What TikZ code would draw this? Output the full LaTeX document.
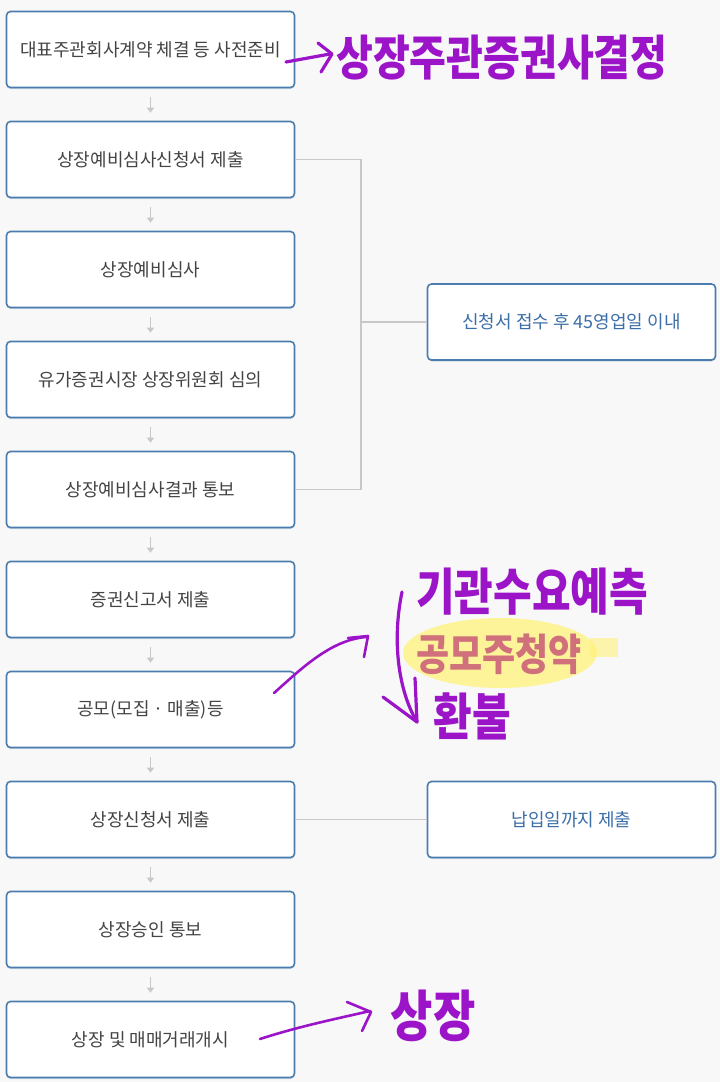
\documentclass[tikz,border=0pt]{standalone}
\usepackage{fontspec}
\newfontfamily\kr{Noto Sans CJK KR}
\usetikzlibrary{arrows.meta,shadows}
\definecolor{bgc}{HTML}{F8F8F8}
\definecolor{boxline}{HTML}{4A7DAE}
\definecolor{boxtext}{HTML}{444444}
\definecolor{bluetext}{HTML}{3C6FA8}
\definecolor{linkgray}{HTML}{C8C8C8}
\definecolor{pen}{HTML}{9B14C8}
\definecolor{hl}{HTML}{FFF27A}
\definecolor{hltext}{HTML}{D0707A}
\begin{document}
\begin{tikzpicture}[x=1pt,y=-1pt,
  stepbox/.style={draw=boxline,line width=1.6pt,rounded corners=4pt,fill=white,
    minimum width=288pt,minimum height=76pt,inner sep=0pt,
    font=\kr\fontsize{18}{21}\selectfont,text=boxtext,
    drop shadow={shadow xshift=0pt,shadow yshift=-1.5pt,opacity=0.25,fill=boxline}},
  sidebox/.style={stepbox,text=bluetext},
  flow/.style={draw=linkgray,line width=1.5pt,-{Triangle[length=5pt,width=7pt]}},
  link/.style={draw=linkgray,line width=1.5pt},
  hand/.style={text=pen,font=\kr\bfseries\fontsize{40}{40}\selectfont,inner sep=0pt,yscale=1.2},
  penline/.style={draw=pen,line width=3.2pt,line cap=round,line join=round}
]
\useasboundingbox[fill=bgc] (0,0) rectangle (720,1082);

\node[stepbox] (b1) at (150.5,49.5) {대표주관회사계약 체결 등 사전준비};
\node[stepbox] (b2) at (150.5,159.5) {상장예비심사신청서 제출};
\node[stepbox] (b3) at (150.5,269.5) {상장예비심사};
\node[stepbox] (b4) at (150.5,379.5) {유가증권시장 상장위원회 심의};
\node[stepbox] (b5) at (150.5,489.5) {상장예비심사결과 통보};
\node[stepbox] (b6) at (150.5,599.5) {증권신고서 제출};
\node[stepbox] (b7) at (150.5,709.5) {공모(모집 · 매출)등};
\node[stepbox] (b8) at (150.5,819.5) {상장신청서 제출};
\node[stepbox] (b9) at (150.5,929.5) {상장승인 통보};
\node[stepbox] (b10) at (150.5,1039.5) {상장 및 매매거래개시};

\node[sidebox] (r1) at (571.5,322) {신청서 접수 후 45영업일 이내};
\node[sidebox] (r2) at (571.5,819.5) {납입일까지 제출};

\foreach \a/\b in {b1/b2,b2/b3,b3/b4,b4/b5,b5/b6,b6/b7,b7/b8,b8/b9,b9/b10}{
  \draw[flow] ([yshift=-9pt]\a.south) -- ([yshift=8pt]\b.north);
}

\coordinate (j) at (361,322);
\draw[link] (b2.east) -| (j) |- (b5.east);
\draw[link] (j) -- (r1.west);
\draw[link] (b8.east) -- (r2.west);

% handwritten annotations
\coordinate (a1s) at (286,62);
\coordinate (a1e) at (330,54);
\draw[penline] (a1s) -- (a1e);
\draw[penline] (318,43) -- (332,54) -- (321,72);
\node[hand,anchor=west] (t1) at (336,58) {상장주관증권사결정};

\node[hand,font=\kr\bfseries\fontsize{42}{42}\selectfont] (t2) at (532,592) {기관수요예측};
\fill[hl,opacity=0.75] (500,653) ellipse (97pt and 35pt);
\fill[hl,opacity=0.6] (590,638) rectangle (618,657);
\node[hand,text=hltext,font=\kr\bfseries\fontsize{36}{36}\selectfont] (t3) at (499,654) {공모주청약};
\node[hand,font=\kr\bfseries\fontsize{42}{42}\selectfont] (t4) at (472,716) {환불};

\coordinate (a2s) at (402,592);
\coordinate (a2e) at (417,722);
\draw[penline] (a2s) .. controls (392,640) and (398,690) .. (a2e);
\draw[penline] (383,697) -- (a2e) -- (415,678);

\coordinate (a3s) at (274,693);
\coordinate (a3e) at (366,637);
\draw[penline,line width=2.6pt] (a3s) .. controls (300,670) and (330,640) .. (a3e);
\draw[penline,line width=2.6pt] (348,638) -- (368,636) -- (364,657);

\coordinate (a4s) at (260,1039);
\coordinate (a4e) at (370,1011);
\draw[penline,line width=2.6pt] (a4s) .. controls (300,1026) and (340,1018) .. (a4e);
\draw[penline,line width=2.6pt] (347,1002) -- (371,1012) -- (362,1031);
\node[hand,font=\kr\bfseries\fontsize{46}{46}\selectfont] (t5) at (433,1016) {상장};
\end{tikzpicture}
\end{document}
